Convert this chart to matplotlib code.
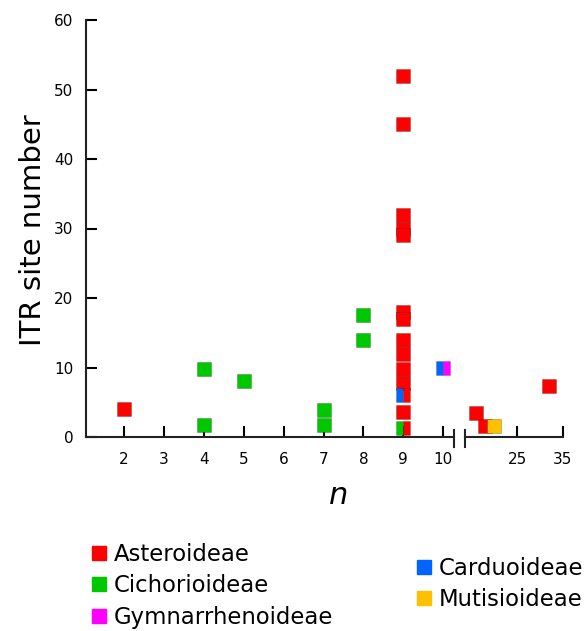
import numpy as np
import matplotlib
matplotlib.use('Agg')
import matplotlib.pyplot as plt
from matplotlib.lines import Line2D

# subfamilies and colours
groups = ['Asteroideae', 'Cichorioideae', 'Gymnarrhenoideae', 'Carduoideae', 'Mutisioideae']
colors = {'Asteroideae': '#ff0000', 'Cichorioideae': '#00c800', 'Gymnarrhenoideae': '#ff00ff',
          'Carduoideae': '#0064ff', 'Mutisioideae': '#ffc000'}

# single-colour points (n, ITR site number)
aster_n = [2, 9, 9, 9, 9, 9, 9, 9, 9, 9, 9, 9, 9, 16, 18, 32]
aster_y = [4, 52, 45, 32, 30, 29, 18, 17, 14, 12, 9.8, 7.8, 3.6, 3.5, 1.6, 7.3]
cicho_n = [4, 4, 5, 7, 7, 8, 8]
cicho_y = [9.8, 1.7, 8, 3.9, 1.7, 17.6, 14]
muti_n = [20]
muti_y = [1.6]

# points shared by two subfamilies (left half, right half)
split_n = [9, 9, 10]
split_y = [6, 1.3, 10]
split_left = ['Carduoideae', 'Cichorioideae', 'Carduoideae']
split_right = ['Asteroideae', 'Asteroideae', 'Gymnarrhenoideae']

xtick_n = [2, 3, 4, 5, 6, 7, 8, 9, 10, 25, 35]
ytick = [0, 10, 20, 30, 40, 50, 60]

def xpos(n):
    # broken axis: linear up to 10, compressed after the break
    n = np.asarray(n, dtype=float)
    return np.where(n <= 10, n, 11.85 + (n - 25) * 0.115)

fig = plt.figure(figsize=(5.87, 6.31), dpi=100)
ax = fig.add_axes([86/587, 1-437/631, (563-86)/587, (437-20)/631])
ax.set_xlim(1.05, 13.0)
ax.set_ylim(0, 60)

ms = 10.3
ax.plot(xpos(cicho_n), cicho_y, 's', color=colors['Cichorioideae'], ms=ms, mec='#00000040', mew=0.6, clip_on=False, zorder=3)
ax.plot(xpos(aster_n), aster_y, 's', color=colors['Asteroideae'], ms=ms, mec='#00000040', mew=0.6, clip_on=False, zorder=3)
ax.plot(xpos(muti_n), muti_y, 's', color=colors['Mutisioideae'], ms=ms, mec='#00000040', mew=0.6, clip_on=False, zorder=4)
for n, y, l, r in zip(split_n, split_y, split_left, split_right):
    ax.plot(xpos([n]), [y], 's', ms=ms, fillstyle='left', markerfacecolor=colors[l],
            markerfacecoloralt=colors[r], mec='#00000030', mew=0.6, clip_on=False, zorder=4)

for s in ['top', 'right', 'bottom']:
    ax.spines[s].set_visible(False)
ax.spines['left'].set_linewidth(1.5)
ax.spines['left'].set_color('#222222')

# broken x axis line
b1, b2 = 10.27, 10.55
ax.plot([1.05, b1], [0, 0], color='#222222', lw=1.5, clip_on=False, zorder=2)
ax.plot([b2, 13.0], [0, 0], color='#222222', lw=1.5, clip_on=False, zorder=2)
for b in [b1, b2]:
    ax.plot([b, b], [-1.4, 1.0], color='#222222', lw=1.5, clip_on=False, zorder=2)

ax.set_xticks(xpos(xtick_n))
ax.set_xticklabels([str(v) for v in xtick_n])
ax.set_yticks(ytick)
ax.tick_params(axis='x', direction='in', length=8, width=1.5, pad=11, labelsize=11)
ax.tick_params(axis='y', direction='in', length=8, width=1.5, pad=9, labelsize=11)

fig.text(33/587, 1-230/631, 'ITR site number', rotation=90, ha='center', va='center', fontsize=21)
fig.text(339/587, 1-495/631, 'n', style='italic', ha='center', va='center', fontsize=22)

def handles(names):
    return [Line2D([], [], marker='s', linestyle='', color=colors[g], ms=10.5) for g in names]

fig.legend(handles(groups[:3]), groups[:3], loc='upper left', bbox_to_anchor=(90/587, 1-543/631),
           frameon=False, fontsize=16.4, handlelength=0.75, handletextpad=0.3, labelspacing=0.37,
           borderpad=0, borderaxespad=0)
fig.legend(handles(groups[3:]), groups[3:], loc='upper left', bbox_to_anchor=(415/587, 1-557/631),
           frameon=False, fontsize=16.4, handlelength=0.75, handletextpad=0.3, labelspacing=0.37,
           borderpad=0, borderaxespad=0)

fig.savefig('out.png', dpi=100)
